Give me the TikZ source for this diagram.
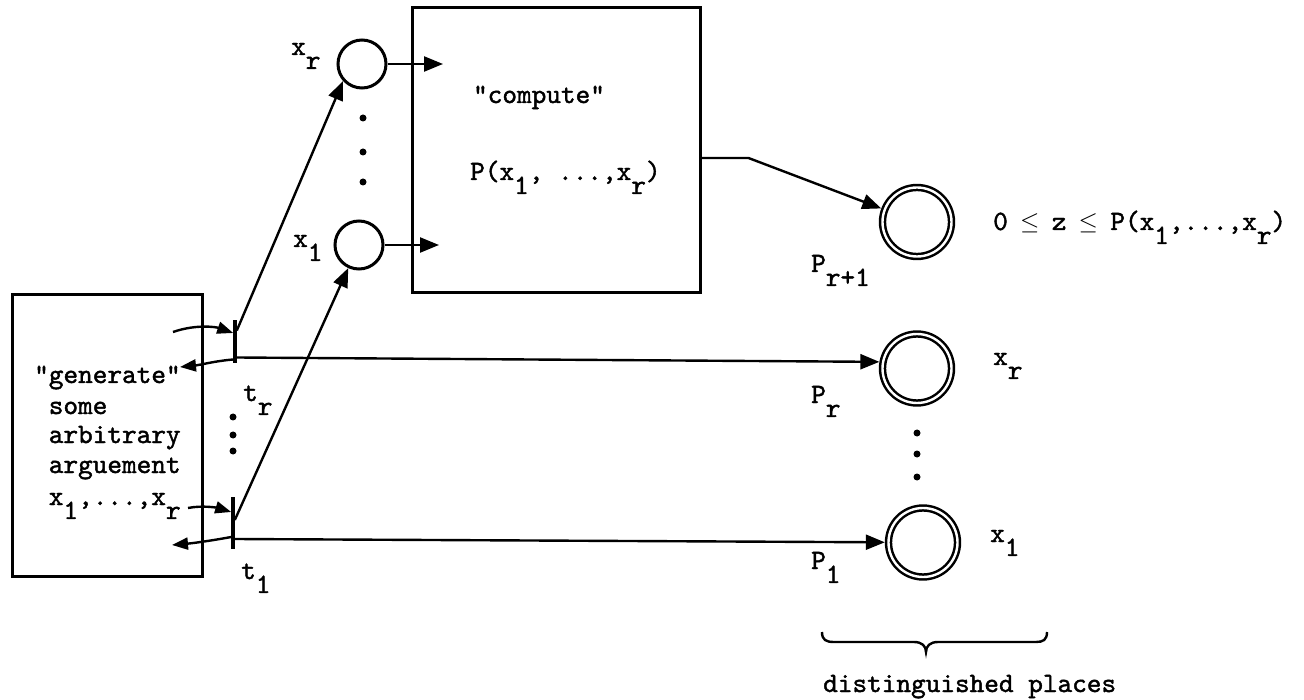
\documentclass[tikz,border=0pt]{standalone}
\usepackage{fontspec}
\newfontfamily\tw{lmmono10-regular.otf}[FakeBold=1.5]
\usetikzlibrary{arrows.meta,calc}
\newcommand{\dn}[1]{\raisebox{-0.5em}{#1}}
\newcommand{\myle}{\makebox[0.525em]{$\leq$}}
\begin{document}
\begin{tikzpicture}[x=1pt,y=-1pt,
  font=\tw\fontsize{27.9}{32}\selectfont,
  box/.style={draw, line width=3pt, inner sep=0},
  place/.style={circle, draw, line width=3pt, minimum size=48pt, inner sep=0},
  dplace/.style={circle, draw, double, line width=2.5pt, double distance=2.4pt, minimum size=69pt, inner sep=0, outer sep=3.7pt},
  bar/.style={fill, inner sep=0, minimum width=3.2pt},
  arr/.style={line width=2.4pt, -{Triangle[length=19pt,width=15pt]}},
  sarr/.style={line width=2.4pt, -{Triangle[length=16pt,width=12pt]}},
  lbl/.style={inner sep=0, anchor=base west},
  dot/.style={circle, fill, inner sep=0, minimum size=7pt}]
\useasboundingbox (0,0) rectangle (1304,700);

% boxes
\node[box, minimum width=190pt, minimum height=282pt] (gen) at (107,435.5) {};
\node[box, minimum width=288pt, minimum height=285pt] (comp) at (556,150.5) {};

% places and transitions
\node[place] (xr) at (362,64) {};
\node[place] (x1) at (359,245) {};
\node[bar, minimum height=43pt] (tr) at (235,341.5) {};
\node[bar, minimum height=52pt] (t1) at (233,523) {};
\node[dplace] (Pr1) at (917,222) {};
\node[dplace] (Pr) at (917,368.5) {};
\node[dplace] (P1) at (923,542.5) {};

% texts
\node[lbl] (g1) at (34,383) {"generate"};
\node[lbl] (g2) at (48.6,414) {some};
\node[lbl] (g3) at (48.6,443) {arbitrary};
\node[lbl] (g4) at (48.6,473) {arguement};
\node[lbl] (g5) at (48.6,505) {x\dn{1},...,x\dn{r}};
\node[inner sep=0, anchor=base] (c1) at (539,103) {"compute"};
\node[lbl] (c2) at (470,180) {P(x\dn{1}, ...,x\dn{r})};
\node[lbl] (rt) at (993,230) {0 \myle{} z \myle{} P(x\dn{1},...,x\dn{r})};
\node[lbl] (lxr) at (291,55) {x\dn{r}};
\node[lbl] (lx1) at (293,247) {x\dn{1}};
\node[lbl] (ltr) at (243,401) {t\dn{r}};
\node[lbl] (lt1) at (241,579) {t\dn{1}};
\node[lbl] (lPr1) at (811,272) {P\dn{r+1}};
\node[lbl] (lPr) at (811,403) {P\dn{r}};
\node[lbl] (lP1) at (811,569) {P\dn{1}};
\node[lbl] (lxr2) at (993,365) {x\dn{r}};
\node[lbl] (lx12) at (990,542) {x\dn{1}};
\node[lbl] (dist) at (823,692) {distinguished places};

% dots
\node[dot] (d1) at (233,417) {};
\node[dot] (d2) at (233,435) {};
\node[dot] (d3) at (233,451) {};
\node[dot] (d4) at (363,118) {};
\node[dot] (d5) at (363,152) {};
\node[dot] (d6) at (363,182) {};
\node[dot] (d7) at (917,433) {};
\node[dot] (d8) at (917,454) {};
\node[dot] (d9) at (917,477) {};

% free ends
\coordinate (grin) at (173,332);
\coordinate (grout) at (180,367);
\coordinate (g1in) at (188,508);
\coordinate (g1out) at (172,545);
\coordinate (cinr) at (443,64);
\coordinate (cin1) at (439,245);

% connectors
\draw[sarr] (grin) .. controls (196,324) and (216,327) .. ($(tr.west)+(0,-8.5)$);
\draw[sarr] ($(tr.west)+(0,18)$) .. controls (215,361) and (200,365) .. (grout);
\draw[arr] ($(tr.east)+(0,16)$) -- (Pr.170);
\draw[arr] ($(tr.east)+(0,-11)$) -- (xr.222);
\draw[sarr] (g1in) .. controls (203,505) and (218,508) .. ($(t1.west)+(0,-11)$);
\draw[sarr] ($(t1.west)+(0,14)$) .. controls (215,540) and (195,543) .. (g1out);
\draw[arr] ($(t1.east)+(0,16)$) -- (P1);
\draw[arr] ($(t1.east)+(0,-3)$) -- (x1.245);
\draw[arr] (xr) -- (cinr);
\draw[arr] (x1) -- (cin1);
\draw[arr] ($(comp.east)+(0,7.5)$) -- ++(47,0) -- (Pr1);

% brace
\draw[line width=2.4pt] (822,632) .. controls (822,640) and (826,642) .. (834,642) -- (914,642)
  .. controls (922,642) and (926,646) .. (926,652)
  .. controls (926,646) and (930,642) .. (938,642) -- (1036,642)
  .. controls (1043,642) and (1047,640) .. (1047,632);
\end{tikzpicture}
\end{document}
